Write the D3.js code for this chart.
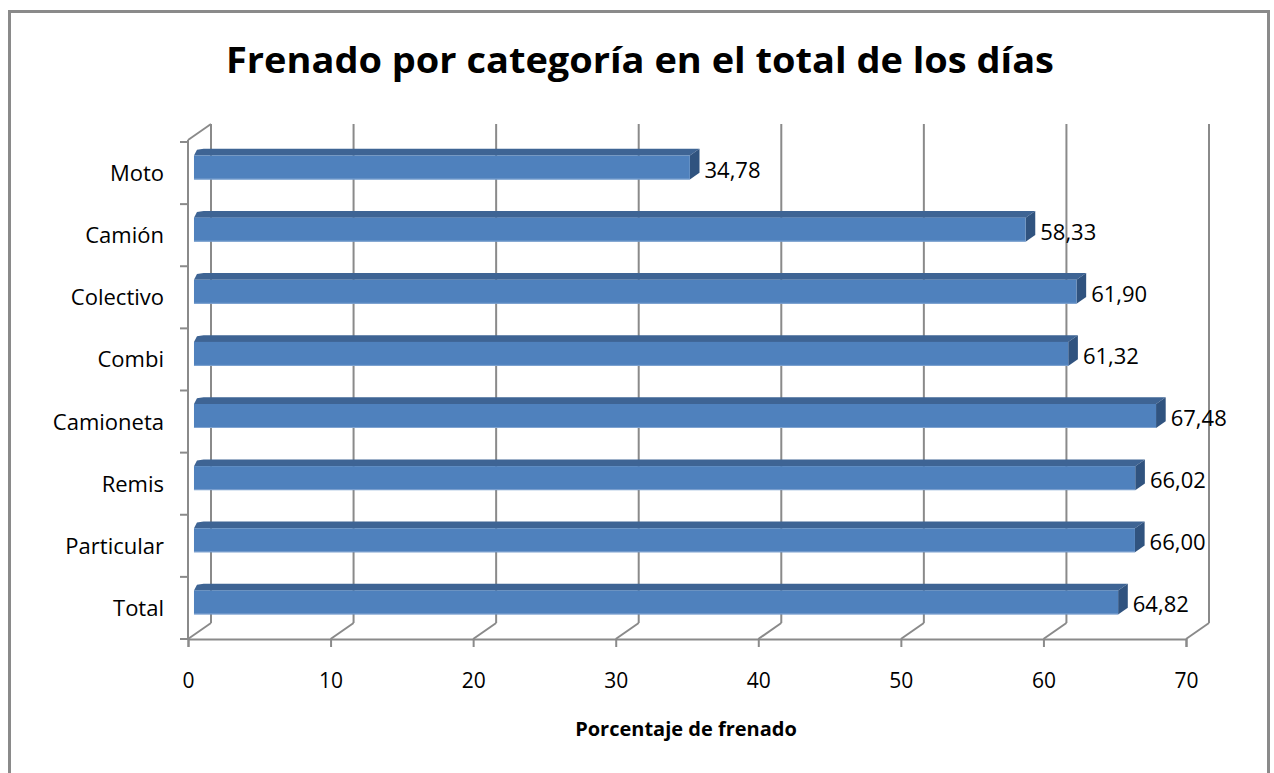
<!DOCTYPE html>
<html>
<head>
<meta charset="utf-8">
<script src="https://cdn.jsdelivr.net/npm/d3@7"></script>
<style>
  html, body { margin: 0; padding: 0; background: #fff; }
  svg { display: block; }
  text { font-family: "Open Sans", Lato, sans-serif; }
</style>
</head>
<body>
<svg id="chart" width="1274" height="773"></svg>
<script>
// ---- data ----
const categories = ["Moto", "Camión", "Colectivo", "Combi", "Camioneta", "Remis", "Particular", "Total"];
const values = [34.78, 58.33, 61.90, 61.32, 67.48, 66.02, 66.00, 64.82];
const xTicks = [0, 10, 20, 30, 40, 50, 60, 70];
const title = "Frenado por categoría en el total de los días";
const xTitle = "Porcentaje de frenado";

// ---- layout ----
const W = 1274, H = 773;
const floorY = 639, topY = 142;
const DX = 23, DY = -16;          // depth offset of back wall
const f0 = 0.26, fd = 0.42;       // bar front-plane depth fraction, bar depth fraction
const gridColor = "#8a8a8a";
const FONT = '"Open Sans", Lato, sans-serif';

const svg = d3.select("#chart");
svg.append("rect").attr("width", W).attr("height", H).attr("fill", "#fff");
// outer frame
svg.append("rect").attr("x", 9.5).attr("y", 11.5).attr("width", 1259).attr("height", 800)
  .attr("fill", "none").attr("stroke", "#8a8a8a").attr("stroke-width", 3);

const x = d3.scaleLinear().domain([0, 70]).range([188, 1186]);
const y = d3.scaleBand().domain(categories).range([topY, floorY]).padding(0);

// title
svg.append("text").attr("x", 640).attr("y", 73).attr("text-anchor", "middle")
  .attr("font-size", 35).attr("font-weight", "bold").attr("fill", "#000")
  .attr("textLength", 828).attr("lengthAdjust", "spacingAndGlyphs")
  .text(title);

const g = svg.append("g");

// back wall gridlines + floor diagonals
xTicks.forEach(t => {
  g.append("line").attr("x1", x(t) + DX).attr("x2", x(t) + DX)
    .attr("y1", topY + DY - 2).attr("y2", floorY + DY)
    .attr("stroke", gridColor).attr("stroke-width", 2);
  g.append("line").attr("x1", x(t)).attr("y1", floorY)
    .attr("x2", x(t) + DX).attr("y2", floorY + DY)
    .attr("stroke", gridColor).attr("stroke-width", 2);
});
// left wall: front vertical + top diagonal
g.append("line").attr("x1", x(0)).attr("x2", x(0)).attr("y1", topY - 2).attr("y2", floorY)
  .attr("stroke", gridColor).attr("stroke-width", 2);
g.append("line").attr("x1", x(0)).attr("y1", topY - 2).attr("x2", x(0) + DX).attr("y2", topY + DY - 2)
  .attr("stroke", gridColor).attr("stroke-width", 2);

// x axis (front floor edge) with ticks
const xAxis = d3.axisBottom(x).tickValues(xTicks).tickSize(8).tickPadding(26).tickFormat(d3.format("d"));
const xg = svg.append("g").attr("transform", `translate(0,${floorY})`).call(xAxis);
xg.select(".domain").attr("stroke", gridColor).attr("stroke-width", 2);
xg.selectAll(".tick line").attr("stroke", gridColor).attr("stroke-width", 2);
xg.selectAll(".tick text").attr("font-size", 21).attr("fill", "#000")
  .attr("font-family", FONT);

// y axis category ticks
const edges = categories.map(c => y(c)).concat([floorY]);
edges.forEach(e => {
  svg.append("line").attr("x1", x(0) - 8).attr("x2", x(0)).attr("y1", e).attr("y2", e)
    .attr("stroke", gridColor).attr("stroke-width", 2);
});
// category labels
svg.selectAll(".cat").data(categories).enter().append("text")
  .attr("class", "cat")
  .attr("x", 164).attr("y", d => y(d) + y.bandwidth() / 2 + 8)
  .attr("text-anchor", "end").attr("font-size", 22).attr("fill", "#000")
  .text(d => d);

// bars
const dxd = DX * fd, dyd = DY * fd;
const fmt = v => d3.format(".2f")(v).replace(".", ",");
const bars = svg.selectAll(".bar").data(categories.map((c, i) => ({ c, v: values[i] }))).enter()
  .append("g").attr("class", "bar");
bars.each(function (d) {
  const gb = d3.select(this);
  const xl = x(0) + DX * f0;
  const xr = x(d.v) + DX * f0;
  const yt = y(d.c) + 13.5;
  const yb = y(d.c) + 37.5;
  // top face
  gb.append("polygon")
    .attr("points", [[xl, yt], [xl + 3, yt + dyd + 1], [xl + dxd, yt + dyd], [xr + dxd, yt + dyd], [xr, yt]].map(p => p.join(",")).join(" "))
    .attr("fill", "#3e6494");
  // side face
  gb.append("polygon")
    .attr("points", [[xr, yt], [xr + dxd, yt + dyd], [xr + dxd, yb + dyd], [xr, yb]].map(p => p.join(",")).join(" "))
    .attr("fill", "#30537f");
  // front face
  gb.append("rect").attr("x", xl).attr("y", yt).attr("width", xr - xl).attr("height", yb - yt)
    .attr("fill", "#4f81bd");
  gb.append("line").attr("x1", xl).attr("x2", xr).attr("y1", yb - 0.5).attr("y2", yb - 0.5)
    .attr("stroke", "#7fa3d1").attr("stroke-width", 1);
  // value label
  gb.append("text").attr("x", xr + dxd + 5).attr("y", (yt + yb) / 2 + 10)
    .attr("font-size", 22).attr("fill", "#000").text(fmt(d.v));
});

// axis title
svg.append("text").attr("x", 686).attr("y", 736).attr("text-anchor", "middle")
  .attr("font-size", 20).attr("font-weight", "bold").attr("fill", "#000").text(xTitle);
</script>
</body>
</html>
